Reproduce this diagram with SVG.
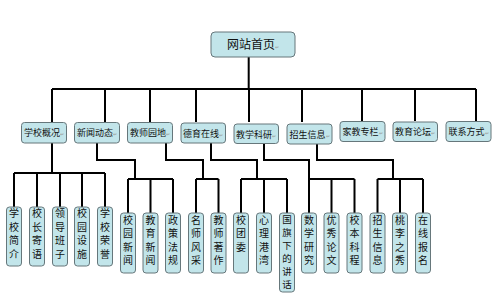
<svg xmlns="http://www.w3.org/2000/svg" width="500" height="299" viewBox="0 0 500 299">
<style>
.b{fill:#c2e5ea;stroke:#66777b;stroke-width:1}
.t{font-family:"Noto Sans CJK SC","Noto Sans",sans-serif;fill:#111;text-anchor:middle}
.r{font-size:12px}
.l{font-size:9px}
.f{font-size:10px}
.g{font-size:9.5px}
.pm{font-size:5px;fill:#999}
.c{fill:none;stroke:#000;stroke-width:2}
</style>
<rect width="500" height="299" fill="#fff"/>
<g id="connectors" class="c">
<path d="M248.7 57V89M52 89H476M52 89V122M105 89V122M150 89V122M196 89V122M249 89V122M302 89V122M362 89V121M415 89V121M476 89V121"/>
<path d="M52 143V173M14 173H105M14 173V207M37 173V207M60 173V207M82 173V207M105 173V207"/>
<path d="M97 143V160H135V179M128 179H173M128 179V213M150.5 179V213M173 179V213"/>
<path d="M166 143V160H203V179M196 179H218.5M196 179V213M218.5 179V213"/>
<path d="M211 143V160H257V179M241 179H287M241 179V213M264 179V213M287 179V213"/>
<path d="M264 143V160H309V179M309 179H354.5M309 179V213M331.5 179V213M354.5 179V213"/>
<path d="M317 143V160H393V179M377.5 179H423M377.5 179V213M400 179V213M423 179V213"/>
</g>
<g id="root"><rect class="b" x="211" y="32" width="84" height="25" rx="4"/><text class="t r" x="253" y="49">网站首页<tspan class="pm">↵</tspan></text></g>
<g id="n1"><rect class="b" x="21.5" y="122.5" width="45" height="20.5" rx="3"/><text class="t l" x="44" y="136">学校概况<tspan class="pm">↵</tspan></text></g>
<g id="n2"><rect class="b" x="74.5" y="122.5" width="45" height="20.5" rx="3"/><text class="t l" x="97" y="136">新闻动态<tspan class="pm">↵</tspan></text></g>
<g id="n3"><rect class="b" x="127.5" y="122.5" width="45" height="20.5" rx="3"/><text class="t l" x="150" y="136">教师园地<tspan class="pm">↵</tspan></text></g>
<g id="n4"><rect class="b" x="181" y="123" width="44.5" height="20" rx="3"/><text class="t l" x="203" y="136.5">德育在线<tspan class="pm">↵</tspan></text></g>
<g id="n5"><rect class="b" x="234" y="124" width="44.5" height="19.5" rx="3"/><text class="t l" x="256" y="137.5">教学科研<tspan class="pm">↵</tspan></text></g>
<g id="n6"><rect class="b" x="287" y="124" width="45" height="20" rx="3"/><text class="t l" x="309.5" y="137.5">招生信息<tspan class="pm">↵</tspan></text></g>
<g id="n7"><rect class="b" x="340" y="121.5" width="45" height="20" rx="3"/><text class="t l" x="362.5" y="134.5">家教专栏<tspan class="pm">↵</tspan></text></g>
<g id="n8"><rect class="b" x="393" y="122" width="44.5" height="19.5" rx="3"/><text class="t l" x="415" y="135">教育论坛<tspan class="pm">↵</tspan></text></g>
<g id="n9"><rect class="b" x="446" y="121.5" width="45" height="20" rx="3"/><text class="t l" x="468.5" y="134.5">联系方式<tspan class="pm">↵</tspan></text></g>
<g id="l1"><rect class="b" x="6.5" y="207" width="15" height="59" rx="3"/><text class="t f" x="14" y="217"><tspan x="14">学</tspan><tspan x="14" dy="13.5">校</tspan><tspan x="14" dy="13.5">简</tspan><tspan x="14" dy="13.5">介</tspan></text></g>
<g id="l2"><rect class="b" x="29.5" y="207" width="15" height="59" rx="3"/><text class="t f" x="37" y="217"><tspan x="37">校</tspan><tspan x="37" dy="13.5">长</tspan><tspan x="37" dy="13.5">寄</tspan><tspan x="37" dy="13.5">语</tspan></text></g>
<g id="l3"><rect class="b" x="52.5" y="207" width="15" height="59" rx="3"/><text class="t f" x="60" y="217"><tspan x="60">领</tspan><tspan x="60" dy="13.5">导</tspan><tspan x="60" dy="13.5">班</tspan><tspan x="60" dy="13.5">子</tspan></text></g>
<g id="l4"><rect class="b" x="74.5" y="207" width="15" height="59" rx="3"/><text class="t f" x="82" y="217"><tspan x="82">校</tspan><tspan x="82" dy="13.5">园</tspan><tspan x="82" dy="13.5">设</tspan><tspan x="82" dy="13.5">施</tspan></text></g>
<g id="l5"><rect class="b" x="97.5" y="207" width="15" height="59" rx="3"/><text class="t f" x="105" y="217"><tspan x="105">学</tspan><tspan x="105" dy="13.5">校</tspan><tspan x="105" dy="13.5">荣</tspan><tspan x="105" dy="13.5">誉</tspan></text></g>
<g id="l6"><rect class="b" x="120.5" y="213" width="15" height="60" rx="3"/><text class="t f" x="128" y="223.5"><tspan x="128">校</tspan><tspan x="128" dy="13.5">园</tspan><tspan x="128" dy="13.5">新</tspan><tspan x="128" dy="13.5">闻</tspan></text></g>
<g id="l7"><rect class="b" x="143" y="213" width="15" height="60" rx="3"/><text class="t f" x="150.5" y="223.5"><tspan x="150.5">教</tspan><tspan x="150.5" dy="13.5">育</tspan><tspan x="150.5" dy="13.5">新</tspan><tspan x="150.5" dy="13.5">闻</tspan></text></g>
<g id="l8"><rect class="b" x="165.5" y="213" width="15" height="60" rx="3"/><text class="t f" x="173" y="223.5"><tspan x="173">政</tspan><tspan x="173" dy="13.5">策</tspan><tspan x="173" dy="13.5">法</tspan><tspan x="173" dy="13.5">规</tspan></text></g>
<g id="l9"><rect class="b" x="188.5" y="213" width="15" height="60" rx="3"/><text class="t f" x="196" y="223.5"><tspan x="196">名</tspan><tspan x="196" dy="13.5">师</tspan><tspan x="196" dy="13.5">风</tspan><tspan x="196" dy="13.5">采</tspan></text></g>
<g id="l10"><rect class="b" x="211" y="213" width="15" height="60" rx="3"/><text class="t f" x="218.5" y="223.5"><tspan x="218.5">教</tspan><tspan x="218.5" dy="13.5">师</tspan><tspan x="218.5" dy="13.5">著</tspan><tspan x="218.5" dy="13.5">作</tspan></text></g>
<g id="l11"><rect class="b" x="233.5" y="213" width="15" height="60" rx="3"/><text class="t f" x="241" y="223.5"><tspan x="241">校</tspan><tspan x="241" dy="13.5">团</tspan><tspan x="241" dy="13.5">委</tspan></text></g>
<g id="l12"><rect class="b" x="256.5" y="213" width="15" height="60" rx="3"/><text class="t f" x="264" y="223.5"><tspan x="264">心</tspan><tspan x="264" dy="13.5">理</tspan><tspan x="264" dy="13.5">港</tspan><tspan x="264" dy="13.5">湾</tspan></text></g>
<g id="l13"><rect class="b" x="279.5" y="213" width="15" height="79" rx="3"/><text class="t g" x="287" y="222.5"><tspan x="287">国</tspan><tspan x="287" dy="13">旗</tspan><tspan x="287" dy="13">下</tspan><tspan x="287" dy="13">的</tspan><tspan x="287" dy="13">讲</tspan><tspan x="287" dy="13">话</tspan></text></g>
<g id="l14"><rect class="b" x="301.5" y="213" width="15" height="60" rx="3"/><text class="t f" x="309" y="223.5"><tspan x="309">数</tspan><tspan x="309" dy="13.5">学</tspan><tspan x="309" dy="13.5">研</tspan><tspan x="309" dy="13.5">究</tspan></text></g>
<g id="l15"><rect class="b" x="324" y="213" width="15" height="60" rx="3"/><text class="t f" x="331.5" y="223.5"><tspan x="331.5">优</tspan><tspan x="331.5" dy="13.5">秀</tspan><tspan x="331.5" dy="13.5">论</tspan><tspan x="331.5" dy="13.5">文</tspan></text></g>
<g id="l16"><rect class="b" x="347" y="213" width="15" height="60" rx="3"/><text class="t f" x="354.5" y="223.5"><tspan x="354.5">校</tspan><tspan x="354.5" dy="13.5">本</tspan><tspan x="354.5" dy="13.5">科</tspan><tspan x="354.5" dy="13.5">程</tspan></text></g>
<g id="l17"><rect class="b" x="370" y="213" width="15" height="60" rx="3"/><text class="t f" x="377.5" y="223.5"><tspan x="377.5">招</tspan><tspan x="377.5" dy="13.5">生</tspan><tspan x="377.5" dy="13.5">信</tspan><tspan x="377.5" dy="13.5">息</tspan></text></g>
<g id="l18"><rect class="b" x="392.5" y="213" width="15" height="60" rx="3"/><text class="t f" x="400" y="223.5"><tspan x="400">桃</tspan><tspan x="400" dy="13.5">李</tspan><tspan x="400" dy="13.5">之</tspan><tspan x="400" dy="13.5">秀</tspan></text></g>
<g id="l19"><rect class="b" x="415.5" y="213" width="15" height="60" rx="3"/><text class="t f" x="423" y="223.5"><tspan x="423">在</tspan><tspan x="423" dy="13.5">线</tspan><tspan x="423" dy="13.5">报</tspan><tspan x="423" dy="13.5">名</tspan></text></g>
</svg>
